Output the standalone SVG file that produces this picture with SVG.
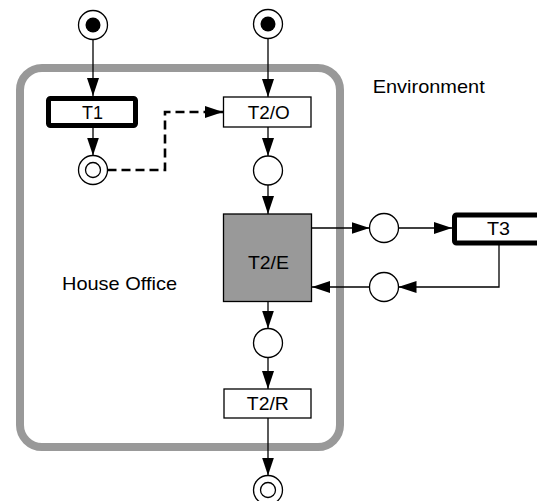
<svg xmlns="http://www.w3.org/2000/svg" width="537" height="501" viewBox="0 0 537 501">
  <defs>
    <marker id="arr" viewBox="0 0 18 12" markerWidth="18" markerHeight="12" refX="18" refY="6" orient="auto" markerUnits="userSpaceOnUse">
      <path d="M0,0 L18,6 L0,12 z" fill="#000"/>
    </marker>
  </defs>
  <style>
    .lbl { font-family: "Liberation Sans", Arial, sans-serif; font-size: 18px; fill: #000; text-anchor: middle; }
    .free { font-family: "Liberation Sans", Arial, sans-serif; font-size: 19px; fill: #000; }
    .place { fill: #fff; stroke: #000; stroke-width: 1.3; }
    .tok { fill: #000; }
    .trans { fill: #fff; stroke: #000; stroke-width: 1.3; }
    .thick { fill: #fff; stroke: #000; stroke-width: 5; }
    .edge { fill: none; stroke: #000; stroke-width: 1.3; marker-end: url(#arr); }
    .dash { fill: none; stroke: #000; stroke-width: 2.6; stroke-dasharray: 9 5; marker-end: url(#arr); }
  </style>
  <rect width="537" height="501" fill="#fff"/>

  <g id="house-office-frame">
    <rect x="20" y="68" width="320" height="379" rx="22" ry="22" fill="none" stroke="#999" stroke-width="8"/>
    <text class="free" x="62" y="290" textLength="115" lengthAdjust="spacingAndGlyphs">House Office</text>
  </g>
  <g id="environment-label">
    <text class="free" x="372.7" y="92.7" textLength="112" lengthAdjust="spacingAndGlyphs">Environment</text>
  </g>

  <g id="connectors">
    <line class="edge" x1="93" y1="39.5" x2="93" y2="96"/>
    <line class="edge" x1="93" y1="128" x2="93" y2="155.5"/>
    <polyline class="dash" points="107.5,170 165,170 165,112 223,112"/>
    <line class="edge" x1="268" y1="38.5" x2="268" y2="97"/>
    <line class="edge" x1="268" y1="127" x2="268" y2="156"/>
    <line class="edge" x1="268" y1="185" x2="268" y2="214"/>
    <line class="edge" x1="312" y1="228" x2="369.5" y2="228"/>
    <line class="edge" x1="398.5" y1="228" x2="452" y2="228"/>
    <polyline class="edge" points="499,245 499,287 398.5,287"/>
    <line class="edge" x1="369.5" y1="287" x2="312" y2="287"/>
    <line class="edge" x1="268" y1="301.5" x2="268" y2="328.5"/>
    <line class="edge" x1="268" y1="357.5" x2="268" y2="389"/>
    <line class="edge" x1="268" y1="418" x2="268" y2="475.5"/>
  </g>

  <g id="p-start-1">
    <circle class="place" cx="93" cy="25" r="14.5"/>
    <circle class="tok" cx="93" cy="25" r="7.5"/>
  </g>
  <g id="p-start-2">
    <circle class="place" cx="268" cy="24" r="14.5"/>
    <circle class="tok" cx="268" cy="24" r="7.5"/>
  </g>
  <g id="t1">
    <rect class="thick" x="48.5" y="98.5" width="87" height="27" rx="2"/>
    <text class="lbl" x="92.5" y="119" textLength="21" lengthAdjust="spacingAndGlyphs">T1</text>
  </g>
  <g id="p-t1-out">
    <circle class="place" cx="93" cy="170" r="14.5"/>
    <circle class="place" cx="93" cy="170" r="7.5"/>
  </g>
  <g id="t2o">
    <rect class="trans" x="223.5" y="97" width="87.5" height="30"/>
    <text class="lbl" x="268.8" y="118.5" textLength="42" lengthAdjust="spacingAndGlyphs">T2/O</text>
  </g>
  <g id="p-t2o-out">
    <circle class="place" cx="268" cy="170.5" r="14.5"/>
  </g>
  <g id="t2e">
    <rect x="223.5" y="214" width="88" height="87.5" fill="#999" stroke="#000" stroke-width="1.3"/>
    <text class="lbl" x="268.4" y="269" textLength="41" lengthAdjust="spacingAndGlyphs">T2/E</text>
  </g>
  <g id="p-out-env">
    <circle class="place" cx="384" cy="228" r="14.5"/>
  </g>
  <g id="p-in-env">
    <circle class="place" cx="384" cy="287" r="14.5"/>
  </g>
  <g id="t3">
    <rect class="thick" x="454.5" y="215" width="92" height="28" rx="2"/>
    <text class="lbl" x="498.5" y="234.5" textLength="23" lengthAdjust="spacingAndGlyphs">T3</text>
  </g>
  <g id="p-t2e-out">
    <circle class="place" cx="268" cy="343" r="14.5"/>
  </g>
  <g id="t2r">
    <rect class="trans" x="224" y="389" width="87" height="29"/>
    <text class="lbl" x="267.8" y="410" textLength="42" lengthAdjust="spacingAndGlyphs">T2/R</text>
  </g>
  <g id="p-end">
    <circle class="place" cx="268" cy="490" r="14.5"/>
    <circle class="place" cx="268" cy="490" r="7.5"/>
  </g>
</svg>
